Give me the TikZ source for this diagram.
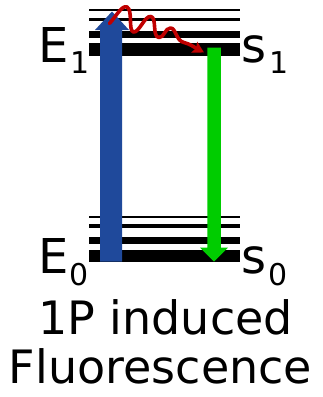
\documentclass[tikz,border=0pt]{standalone}
\usepackage{fontspec}
\setmainfont{DejaVu Sans}
\usetikzlibrary{arrows.meta}
\definecolor{absblue}{RGB}{31,73,155}
\definecolor{emitgreen}{RGB}{0,204,0}
\definecolor{relaxred}{RGB}{192,0,0}
\tikzset{
  level/.style={line width=#1},
  big/.style={inner sep=0pt, anchor=base west, font=\fontsize{48}{48}\selectfont},
  small/.style={inner sep=0pt, anchor=base west, font=\fontsize{30}{30}\selectfont},
  caption/.style={inner sep=0pt, anchor=base, font=\fontsize{46}{46}\selectfont}
}
\begin{document}
\begin{tikzpicture}[x=1pt, y=-1pt]
\useasboundingbox (0,0) rectangle (322,397);
% upper manifold (excited state)
\draw[level=2pt]   (89,10)   -- (240,10);
\draw[level=3pt]   (89,19.7) -- (240,19.7);
\draw[level=7pt]   (89,34.7) -- (240,34.7);
\draw[level=12.3pt](89,49.5) -- (240,49.5);
% lower manifold (ground state)
\draw[level=2pt]   (89,216.8) -- (240,216.8);
\draw[level=3.5pt] (89,225.8) -- (240,225.8);
\draw[level=7pt]   (89,240.7) -- (240,240.7);
\draw[level=12pt]  (89,255.8) -- (240,255.8);
% absorption arrow
\fill[absblue] (100,261.7) -- (122,261.7) -- (122,30) -- (129,30) -- (112,11.5)
  -- (95,30) -- (100,30) -- cycle;
% emission arrow
\fill[emitgreen] (207.3,47.7) -- (220.8,47.7) -- (220.8,247.7) -- (228,247.7)
  -- (214,261.7) -- (200,247.7) -- (207.3,247.7) -- cycle;
% vibrational relaxation
\draw[relaxred, line width=3.6pt, line cap=round, line join=round, -{Stealth[length=11pt,width=12pt,inset=2pt]}]
  (109.5,23.5) .. controls (117,15) and (122,5) .. (127,7)
  .. controls (133,10) and (128,31) .. (133.5,32)
  .. controls (139,33) and (145,15) .. (151,16.5)
  .. controls (157,18) and (152,37) .. (159,37.5)
  .. controls (164,38) and (165,28) .. (170.5,28)
  .. controls (176,28) and (176,41) .. (184,42.5)
  .. controls (190,44) and (194,47) .. (204,52.5);
% state labels
\node[big]   (e1)  at (38.3,62)  {E};
\node[small] (e1s) at (70,73)    {1};
\node[big]   (s1)  at (241,62)   {s};
\node[small] (s1s) at (269,73)   {1};
\node[big]   (e0)  at (38.3,273) {E};
\node[small] (e0s) at (69,285)   {0};
\node[big]   (s0)  at (241,273)  {s};
\node[small] (s0s) at (268,285)  {0};
% caption
\node[caption] (c1) at (165.5,334) {1P induced};
\node[caption] (c2) at (160.5,383) {Fluorescence};
\end{tikzpicture}
\end{document}
